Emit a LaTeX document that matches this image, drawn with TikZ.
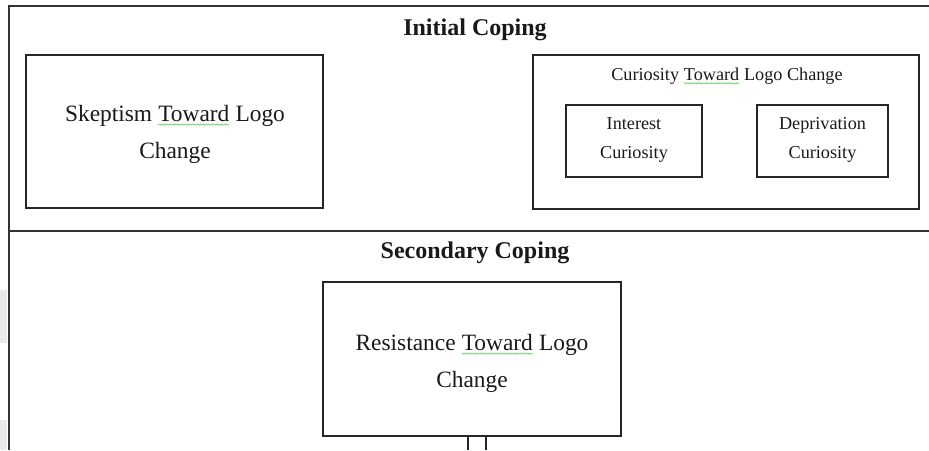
\documentclass[tikz,border=0pt]{standalone}
\usepackage{fontspec}
\setmainfont{Liberation Serif}
\usetikzlibrary{decorations.pathmorphing}
\tikzset{
  frameline/.style={draw=black!80, line width=1.4pt},
  boxshape/.style={draw=black!85, line width=1.3pt, rectangle, inner sep=0pt, outer sep=0pt},
  bigtext/.style={font=\fontsize{23.4}{37}\selectfont, align=center, text=black!90},
  smalltext/.style={font=\fontsize{18.2}{29}\selectfont, align=center, text=black!90},
  titletext/.style={font=\fontsize{24}{28}\selectfont\bfseries, text=black!90},
  squig/.style={draw=green!45!gray!80, line width=0.55pt, decorate,
    decoration={snake, amplitude=0.7pt, segment length=2.6pt}},
  edgeshade/.style={fill=blue!10!gray!15, draw=none}
}
\newcommand\wavyword[1]{\tikz[baseline=(w.base),x=1pt,y=1pt]{\node[inner sep=0pt,outer sep=0pt](w){#1};\draw[squig] ([yshift=-3pt]w.base west) -- ([yshift=-3pt]w.base east);}}
\begin{document}
\begin{tikzpicture}[x=1pt,y=-1pt]
\useasboundingbox (0,0) rectangle (929,450);
% screenshot edge shading
\path[edgeshade] (0,290) rectangle (7,343);
\path[edgeshade] (0,420) rectangle (7,450);
% outer frame
\coordinate (tl) at (9,6);
\coordinate (tr) at (929,6);
\coordinate (bl) at (9,450);
\coordinate (dl) at (9,231);
\coordinate (dr) at (929,231);
\draw[frameline] (bl) -- (tl) -- (tr);
\draw[frameline] (dl) -- (dr);
% titles
\node[titletext] (initial) at (475,30) {Initial Coping};
\node[titletext] (secondary) at (475,253) {Secondary Coping};
% skeptism box
\node[boxshape, minimum width=297pt, minimum height=153pt] (skep) at (174.5,131.5) {};
\node[bigtext] (skeptext) at (175,134.5) {Skeptism \wavyword{Toward} Logo\\Change};
% curiosity box
\node[boxshape, minimum width=386pt, minimum height=154pt] (cur) at (726,132) {};
\node[smalltext] (curtitle) at (727,76) {Curiosity \wavyword{Toward} Logo Change};
\node[boxshape, minimum width=136pt, minimum height=72pt] (interest) at (634,141) {};
\node[smalltext] (interesttext) at (634,140) {Interest\\Curiosity};
\node[boxshape, minimum width=131pt, minimum height=72pt] (depriv) at (822.5,141) {};
\node[smalltext] (deprivtext) at (822.5,140) {Deprivation\\Curiosity};
% resistance box
\node[boxshape, minimum width=298pt, minimum height=154pt] (resist) at (472,359) {};
\node[bigtext] (resisttext) at (472,363.5) {Resistance \wavyword{Toward} Logo\\Change};
% small box below
\coordinate (sa) at (468,436);
\coordinate (sb) at (486,436);
\draw[boxshape] (sa) -- (468,450);
\draw[boxshape] (sb) -- (486,450);
\end{tikzpicture}
\end{document}
